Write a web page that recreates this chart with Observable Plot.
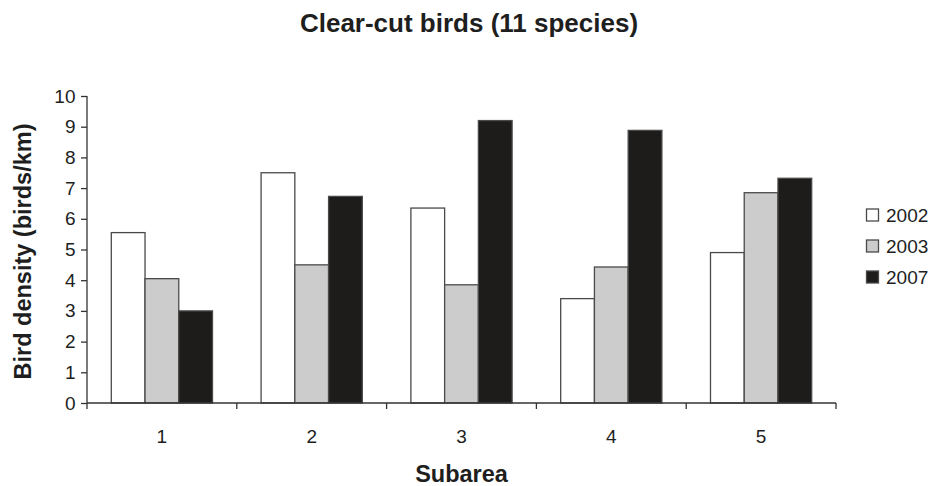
<!DOCTYPE html>
<html>
<head>
<meta charset="utf-8">
<script src="https://cdn.jsdelivr.net/npm/d3@7"></script>
<script src="https://cdn.jsdelivr.net/npm/@observablehq/plot@0.6"></script>
<style>
  html, body { margin: 0; padding: 0; background: #fff; }
  #chart { width: 932px; height: 486px; }
</style>
</head>
<body>
<div id="chart"></div>
<script>
const titleText = "Clear-cut birds (11 species)";
const xLabel = "Subarea";
const yLabel = "Bird density (birds/km)";
const subareas = ["1", "2", "3", "4", "5"];
const years = ["2002", "2003", "2007"];
const colors = ["#ffffff", "#cccccc", "#1e1c1a"];
const values2002 = [5.55, 7.5, 6.35, 3.4, 4.9];
const values2003 = [4.05, 4.5, 3.85, 4.43, 6.85];
const values2007 = [3.0, 6.73, 9.2, 8.88, 7.32];
const yTicks = [0, 1, 2, 3, 4, 5, 6, 7, 8, 9, 10];

const seriesByYear = [values2002, values2003, values2007];
const data = [];
subareas.forEach((s, i) => {
  years.forEach((y, j) => data.push({subarea: s, year: y, value: seriesByYear[j][i]}));
});

const FONT = "'Liberation Sans', Arial, sans-serif";
const INK = "#1e1e1e";
const AXIS = "#333";

const chart = Plot.plot({
  width: 932,
  height: 486,
  marginTop: 96,
  marginBottom: 83,
  marginLeft: 87,
  marginRight: 96,
  style: {fontFamily: FONT, fontSize: "19px", color: INK, background: "#fff", overflow: "visible"},
  fx: {domain: subareas, padding: 0, round: false, label: null, axis: null},
  x: {domain: years, paddingInner: 0, paddingOuter: 0.72, round: false, axis: null},
  y: {domain: [0, 10], ticks: yTicks, label: null},
  color: {domain: years, range: colors},
  marks: [
    Plot.barY(data, {fx: "subarea", x: "year", y: "value", fill: "year", stroke: "#4a4a4a", strokeWidth: 1.3}),
    Plot.axisY({ticks: yTicks, tickSize: 6, tickPadding: 6, fontSize: 19, label: null, stroke: AXIS, strokeWidth: 1.3})
  ]
});

document.getElementById("chart").appendChild(chart);

const svg = d3.select(chart);
const fx = chart.scale("fx");
const y = chart.scale("y");
const y0 = y.apply(0), y10 = y.apply(10);
const step = fx.step != null ? fx.step : fx.bandwidth;
const bounds = subareas.map(s => fx.apply(s));
bounds.push(bounds[bounds.length - 1] + step);
const xLeft = bounds[0];
const xRight = bounds[bounds.length - 1];

// y axis line
svg.append("line").attr("x1", xLeft).attr("x2", xLeft).attr("y1", y10).attr("y2", y0)
  .attr("stroke", AXIS).attr("stroke-width", 1.3);
// x axis line with boundary ticks
svg.append("line").attr("x1", xLeft).attr("x2", xRight).attr("y1", y0).attr("y2", y0)
  .attr("stroke", AXIS).attr("stroke-width", 1.3);
bounds.forEach(b => {
  svg.append("line").attr("x1", b).attr("x2", b).attr("y1", y0).attr("y2", y0 + 6)
    .attr("stroke", AXIS).attr("stroke-width", 1.3);
});
subareas.forEach((s, i) => {
  svg.append("text").attr("x", bounds[i] + step / 2).attr("y", y0 + 40)
    .attr("text-anchor", "middle").attr("font-size", 19).attr("font-family", FONT).attr("fill", INK).text(s);
});
// axis titles
svg.append("text").attr("x", (xLeft + xRight) / 2).attr("y", y0 + 79)
  .attr("text-anchor", "middle").attr("font-size", 23.5).attr("font-weight", "bold").attr("font-family", FONT).attr("fill", INK).text(xLabel);
svg.append("text").attr("transform", `translate(31,${(y0 + y10) / 2 + 2}) rotate(-90)`)
  .attr("text-anchor", "middle").attr("font-size", 23.5).attr("font-weight", "bold").attr("font-family", FONT).attr("fill", INK).text(yLabel);
// title
svg.append("text").attr("x", 469).attr("y", 32)
  .attr("text-anchor", "middle").attr("font-size", 26).attr("font-weight", "bold").attr("font-family", FONT).attr("fill", INK).text(titleText);

// legend
const legend = svg.append("g").attr("transform", "translate(866,0)");
years.forEach((yr, i) => {
  const cy = 215 + i * 31;
  legend.append("rect").attr("x", 0.5).attr("y", cy - 6).attr("width", 12).attr("height", 12)
    .attr("fill", colors[i]).attr("stroke", "#4a4a4a").attr("stroke-width", 1.3);
  legend.append("text").attr("x", 20).attr("y", cy + 7).attr("text-anchor", "start")
    .attr("font-size", 19).attr("font-family", FONT).attr("fill", INK).text(yr);
});
</script>
</body>
</html>
